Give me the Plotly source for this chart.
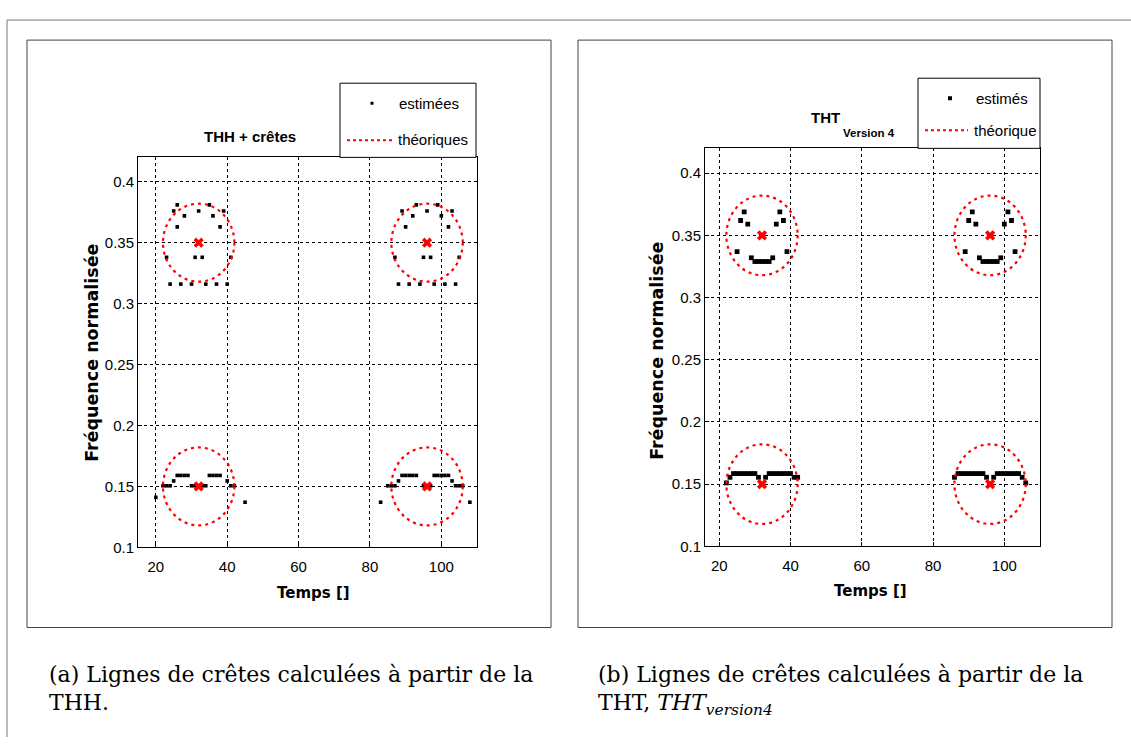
import plotly.graph_objects as go

W, H = 1131, 745
K = 1.0133  # vertical correction observed between requested and photographed positions

# ---------------- data ----------------
# theoretical ridge centres (time, normalised frequency) and radii
centre_t = [32, 96, 32, 96]
centre_f = [0.35, 0.35, 0.15, 0.15]
radius_t = 10
radius_f = 0.032

# THH + crêtes : estimated points
thh_t = [24, 27, 30, 34, 37, 40, 23, 31, 33, 41, 26, 38, 28, 36, 25, 32, 39, 26, 35,
         88, 91, 94, 98, 101, 104, 87, 95, 97, 105, 90, 102, 92, 100, 89, 96, 103, 93, 99,
         26, 27, 28, 29, 35, 36, 37, 38, 25, 40, 22, 23, 24, 30, 31, 32, 33, 34, 41, 42, 20, 45,
         89, 90, 91, 92, 93, 98, 99, 100, 101, 102, 88, 103, 85, 86, 87, 95, 96, 97, 104, 105, 106, 83, 108]
thh_f = [0.316, 0.316, 0.316, 0.316, 0.316, 0.316, 0.338, 0.338, 0.338, 0.338, 0.363, 0.363, 0.372, 0.372, 0.376, 0.376, 0.376, 0.381, 0.381,
         0.316, 0.316, 0.316, 0.316, 0.316, 0.316, 0.338, 0.338, 0.338, 0.338, 0.363, 0.363, 0.372, 0.372, 0.376, 0.376, 0.376, 0.381, 0.381,
         0.159, 0.159, 0.159, 0.159, 0.159, 0.159, 0.159, 0.159, 0.1545, 0.1545, 0.1505, 0.1505, 0.1505, 0.1505, 0.1505, 0.1505, 0.1505, 0.1505, 0.1505, 0.1505, 0.141, 0.137,
         0.159, 0.159, 0.159, 0.159, 0.159, 0.159, 0.159, 0.159, 0.159, 0.159, 0.1545, 0.1545, 0.1505, 0.1505, 0.1505, 0.1505, 0.1505, 0.1505, 0.1505, 0.1505, 0.1505, 0.137, 0.137]

# THT version 4 : estimated points
tht_t = [27, 37, 26, 38, 28, 36, 25, 39, 29, 35, 30, 31, 32, 33, 34,
         91, 101, 90, 102, 92, 100, 89, 103, 93, 99, 94, 95, 96, 97, 98,
         22, 23, 24, 25, 26, 27, 28, 29, 30, 31, 33, 34, 35, 36, 37, 38, 39, 40, 41, 42,
         86, 87, 88, 89, 90, 91, 92, 93, 94, 95, 97, 98, 99, 100, 101, 102, 103, 104, 105, 106]
tht_f = [0.369, 0.369, 0.362, 0.362, 0.359, 0.359, 0.337, 0.337, 0.332, 0.332, 0.329, 0.329, 0.329, 0.329, 0.329,
         0.369, 0.369, 0.362, 0.362, 0.359, 0.359, 0.337, 0.337, 0.332, 0.332, 0.329, 0.329, 0.329, 0.329, 0.329,
         0.151, 0.1555, 0.1585, 0.1585, 0.1585, 0.1585, 0.1585, 0.1585, 0.1585, 0.1555, 0.1555, 0.1585, 0.1585, 0.1585, 0.1585, 0.1585, 0.1585, 0.1585, 0.1555, 0.1555,
         0.1555, 0.1585, 0.1585, 0.1585, 0.1585, 0.1585, 0.1585, 0.1585, 0.1585, 0.1555, 0.1555, 0.1585, 0.1585, 0.1585, 0.1585, 0.1585, 0.1585, 0.1585, 0.1555, 0.151]

x_ticks = [20, 40, 60, 80, 100]
y_ticks = [0.1, 0.15, 0.2, 0.25, 0.3, 0.35, 0.4]
y_ticktext = ["0.1", "0.15", "0.2", "0.25", "0.3", "0.35", "0.4"]

# ---------------- helpers ----------------
def px(x):
    return x / W


def py(y):
    return 1 - (y * K) / H


TICKFONT = dict(family="Liberation Sans Narrow, Liberation Sans, Arial, sans-serif", size=15, color="black")
TITLEF = "Liberation Sans, Arial, sans-serif"
LABELF = "DejaVu Sans, Liberation Sans, sans-serif"

fig = go.Figure()

fig.add_trace(go.Scatter(x=thh_t, y=thh_f, mode="markers", xaxis="x", yaxis="y",
                         marker=dict(symbol="square", size=3.6, color="black", line=dict(width=0)),
                         showlegend=False))
fig.add_trace(go.Scatter(x=tht_t, y=tht_f, mode="markers", xaxis="x2", yaxis="y2",
                         marker=dict(symbol="square", size=4.8, color="black", line=dict(width=0)),
                         showlegend=False))
for xa, ya in (("x", "y"), ("x2", "y2")):
    fig.add_trace(go.Scatter(x=centre_t, y=centre_f, mode="markers", xaxis=xa, yaxis=ya,
                             marker=dict(symbol="x", size=9, color="red", line=dict(width=0)),
                             showlegend=False))

shapes = []
for xr, yr in (("x", "y"), ("x2", "y2")):
    for ct, cf in zip(centre_t, centre_f):
        shapes.append(dict(type="circle", xref=xr, yref=yr,
                           x0=ct - radius_t, x1=ct + radius_t, y0=cf - radius_f, y1=cf + radius_f,
                           line=dict(color="red", width=2.2, dash="3px,4px"), layer="above"))

# page frame and panel boxes
shapes += [
    dict(type="line", xref="paper", yref="paper", x0=px(7), x1=px(1131), y0=py(20), y1=py(20),
         line=dict(color="#777", width=1)),
    dict(type="line", xref="paper", yref="paper", x0=px(7), x1=px(7), y0=py(20), y1=0,
         line=dict(color="#777", width=1)),
    dict(type="rect", xref="paper", yref="paper", x0=px(27), x1=px(551), y0=py(626), y1=py(40),
         line=dict(color="#444", width=1)),
    dict(type="rect", xref="paper", yref="paper", x0=px(578), x1=px(1112), y0=py(626), y1=py(40),
         line=dict(color="#444", width=1)),
]

# legends (drawn manually to mimic MATLAB boxes)
def legend(box, dot, line, t1, t2, dotsize):
    x0, y0, x1, y1 = box
    s = [dict(type="rect", xref="paper", yref="paper", x0=px(x0), x1=px(x1), y0=py(y1), y1=py(y0),
              line=dict(color="black", width=1), fillcolor="white", layer="above"),
         dict(type="rect", xref="paper", yref="paper",
              x0=px(dot[0] - dotsize / 2), x1=px(dot[0] + dotsize / 2),
              y0=py(dot[1] + dotsize / 2), y1=py(dot[1] - dotsize / 2),
              line=dict(width=0), fillcolor="black", layer="above"),
         dict(type="line", xref="paper", yref="paper", x0=px(line[0]), x1=px(line[1]),
              y0=py(line[2]), y1=py(line[2]), line=dict(color="red", width=2, dash="3px,3px"), layer="above")]
    a = [dict(text=t1[0], x=px(t1[1]), y=py(t1[2]), xref="paper", yref="paper", showarrow=False,
              xanchor="left", yanchor="middle", font=TICKFONT),
         dict(text=t2[0], x=px(t2[1]), y=py(t2[2]), xref="paper", yref="paper", showarrow=False,
              xanchor="left", yanchor="middle", font=TICKFONT)]
    return s, a

s1, a1 = legend((340, 83, 476, 157), (372, 103), (347, 392, 140), ("estimées", 397, 103), ("théoriques", 396, 139), 3)
s2, a2 = legend((918, 78, 1040, 148), (950, 98), (925, 968, 130), ("estimés", 974, 98), ("théorique", 972, 130), 4)
shapes += s1 + s2

annotations = a1 + a2
annotations += [
    dict(text="<b>THH + crêtes</b>", x=px(250), y=py(136), xref="paper", yref="paper", showarrow=False,
         xanchor="center", yanchor="middle", font=dict(family=TITLEF, size=15, color="black")),
    dict(text="<b>THT</b>", x=px(825), y=py(117), xref="paper", yref="paper", showarrow=False,
         xanchor="center", yanchor="middle", font=dict(family=TITLEF, size=15, color="black")),
    dict(text="<b>Version 4</b>", x=px(869), y=py(133), xref="paper", yref="paper", showarrow=False,
         xanchor="center", yanchor="middle", font=dict(family=TITLEF, size=11.5, color="black")),
    dict(text="<b>Temps []</b>", x=px(314), y=py(592), xref="paper", yref="paper", showarrow=False,
         xanchor="center", yanchor="middle", font=dict(family=LABELF, size=15, color="black")),
    dict(text="<b>Temps []</b>", x=px(871), y=py(590), xref="paper", yref="paper", showarrow=False,
         xanchor="center", yanchor="middle", font=dict(family=LABELF, size=15, color="black")),
    dict(text="<b>Fréquence normalisée</b>", x=px(92), y=py(352), xref="paper", yref="paper", showarrow=False,
         textangle=-90, xanchor="center", yanchor="middle", font=dict(family=LABELF, size=17.5, color="black")),
    dict(text="<b>Fréquence normalisée</b>", x=px(657), y=py(350), xref="paper", yref="paper", showarrow=False,
         textangle=-90, xanchor="center", yanchor="middle", font=dict(family=LABELF, size=17.5, color="black")),
]

CAP = dict(family="DejaVu Serif, serif", size=22, color="black")
annotations += [
    dict(text="(a) Lignes de crêtes calculées à partir de la", x=px(47), y=py(673), xref="paper", yref="paper",
         showarrow=False, xanchor="left", yanchor="middle", font=CAP),
    dict(text="THH.", x=px(47), y=py(701), xref="paper", yref="paper",
         showarrow=False, xanchor="left", yanchor="middle", font=CAP),
    dict(text="(b) Lignes de crêtes calculées à partir de la", x=px(596), y=py(673), xref="paper", yref="paper",
         showarrow=False, xanchor="left", yanchor="middle", font=CAP),
    dict(text="THT, <i>THT</i><sub><i>version4</i></sub>", x=px(596), y=py(703), xref="paper", yref="paper",
         showarrow=False, xanchor="left", yanchor="middle", font=CAP),
]

axis_common = dict(showgrid=True, gridcolor="black", griddash="dot", gridwidth=1,
                   showline=True, linecolor="black", linewidth=1, mirror=True,
                   ticks="inside", ticklen=4, tickcolor="black", zeroline=False,
                   tickfont=TICKFONT, fixedrange=True)

fig.update_layout(
    width=W, height=H, margin=dict(l=0, r=0, t=0, b=0),
    paper_bgcolor="white", plot_bgcolor="white", showlegend=False,
    xaxis=dict(domain=[px(138), px(477)], range=[15, 110], tickvals=x_ticks, anchor="y",
               ticklabelstandoff=6, **axis_common),
    yaxis=dict(domain=[py(546), py(157)], range=[0.1, 0.42], tickvals=y_ticks, ticktext=y_ticktext,
               anchor="x", **axis_common),
    xaxis2=dict(domain=[px(705), px(1040)], range=[16, 110], tickvals=x_ticks, anchor="y2",
                ticklabelstandoff=6, **axis_common),
    yaxis2=dict(domain=[py(545), py(148)], range=[0.1, 0.42], tickvals=y_ticks, ticktext=y_ticktext,
                anchor="x2", **axis_common),
    shapes=shapes, annotations=annotations,
)

fig.write_html("out.html", config={"displayModeBar": False},
               post_script="document.body.style.margin='0';document.body.style.overflow='hidden';")
